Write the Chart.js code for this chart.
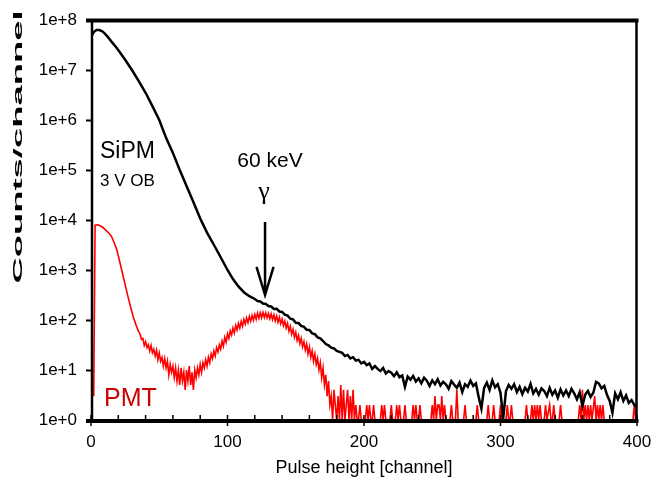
<!DOCTYPE html>
<html><head><meta charset="utf-8">
<script src="https://cdn.jsdelivr.net/npm/chart.js@4.4.1/dist/chart.umd.min.js"></script>
<style>html,body{margin:0;padding:0;background:#fff;}canvas{display:block;}</style>
</head><body>
<canvas id="c" width="653" height="483"></canvas>
<script>
// ---------- DATA ----------
const seriesNames = ['SiPM', 'PMT'];

const sipmChannels = [
  0,2,4,6,8,10,12,15,18,21,25,30,35,40,45,50,55,60,65,70,75,80,85,90,95,100,
  104,108,112,116,120,122,124,126,128,130,132,134,136,138,140,142,144,146,148,150,
  152,154,156,158,160,162,164,166,168,
  170,172,174,176,178,180,182,184,186,188,190,192,194,196,198,
  200,202,204,206,208,210,212,214,216,218,220,222,224,226,228,
  230,232,234,236,238,240,242,244,246,248,250,252,254,256,258,
  260,262,264,266,268,270,272,274,276,278,280,282,284,286,288,
  290,292,294,296,298,300,302,304,306,308,310,312,314,316,318,
  320,322,324,326,328,330,332,334,336,338,340,342,344,346,348,
  350,352,354,356,358,360,362,364,366,368,370,372,374,376,378,
  380,382,384,386,388,390,392,394,396,398,400
];
const sipmCounts = [
  4.6e7,5.75e7,6.3e7,6.3e7,6.0e7,5.4e7,4.7e7,3.7e7,2.95e7,2.3e7,1.6e7,1.0e7,6.0e6,3.5e6,1.9e6,1.0e6,4.4e5,2.2e5,1.0e5,4.8e4,2.3e4,1.07e4,5.6e3,3.2e3,1.8e3,1.0e3,
  660,470,360,300,263,240,235,214,210,190,186,166,168,148,145,128,122,106,103,88,
  87,76,73,64,63,54,52,45,43,
  38,33,31,28,27,24,23,22,19,20,17,18,15.5,16,13.5,
  14.5,12.5,13.5,10.5,12,10.5,9.5,11,8.5,9.5,8.8,7.5,9,7.2,7.8,
  4.6,7.4,6.4,7.6,5.9,6.8,5.4,7,6.1,4.8,6.2,5.2,6.5,4.9,5.8,
  5.2,4.2,6,5.1,4.4,5.6,3.6,5.2,4.6,6.1,4.8,5.4,2.9,1.7,4.4,
  5.6,4,6.2,4.5,5.2,3.5,1.1,3.8,5.0,4.2,5.2,3.6,4.6,3.3,4.4,
  3.7,5.3,3.4,4.2,3.2,4.3,3.8,3.0,4.4,3.2,3.9,2.8,4.1,3.1,3.9,
  3.0,4.2,3.4,2.6,3.6,1.9,3.2,3.8,2.9,3.5,5.8,5.4,4.3,4.8,3.2,
  2.4,1.4,3.4,2.6,3.6,2.4,3.1,2.2,2.5,2.0,1.8
];

const pmtChannels = [
  2,3,5,7,9,11,13,15,17,19,21,23,25,27,29,31,33,35,
  36,37,38,39,40,41,42,43,44,45,
  46,47,48,49,50,51,52,53,54,55,
  56,57,58,59,60,61,62,63,64,65,
  66,67,68,69,70,71,72,73,74,75,
  76,77,78,79,80,81,82,83,84,85,
  86,87,88,89,90,91,92,93,94,95,
  96,97,98,99,100,101,102,103,104,105,
  106,107,108,109,110,111,112,113,114,115,
  116,117,118,119,120,121,122,123,124,125,
  126,127,128,129,130,131,132,133,134,135,
  136,137,138,139,140,141,142,143,144,145,
  146,147,148,149,150,151,152,153,154,155,
  156,157,158,159,160,161,162,163,164,165,
  166,167,168,169,170,171,172,173,174,175,
  176,177,178,179,180,181,182,183,184,185,186,187,188,189,190,191,192,193,194,195,196,197,198,
  201,202,203,204,205,206,207,208,212,213,214,215,216,219,220,221,223,224,225,226,227,229,230,231,
  235,236,237,238,239,240,241,242,249,250,251,252,253,254,255,256,257,258,259,260,
  263,264,265,267,268,269,273,274,275,282,283,284,290,291,292,294,295,296,299,300,301,
  304,305,306,307,308,309,318,319,320,322,323,324,325,326,327,328,329,330,332,333,334,
  336,337,338,339,340,343,344,345,357,358,359,360,361,362,363,364,365,366,367,369,370,
  371,372,373,374,375,376,397,398,399,400
];
const pmtCounts = [
  3,7900,8000,7600,7000,6200,5500,4700,3500,2500,1480,870,510,300,182,115,79,58,
  52,41,43,31,37,28,32,24,31,22,
  26,19,25,16,22,15,18,12,17,11,
  15,8,13,9,12,7,11,6,10,5,
  11,6,9,4,10,6,12,5,9,4,
  10,7,11,8,13,9,14,11,16,12,
  18,14,21,17,24,19,28,23,32,26,
  38,30,45,36,53,43,61,50,69,55,
  78,63,86,69,94,75,103,83,110,88,
  118,94,124,99,130,104,137,108,140,111,
  142,112,140,110,135,106,132,102,127,96,
  120,90,114,84,104,77,96,69,86,60,
  75,52,65,45,57,39,49,34,43,29,
  37,25,33,21,29,18,24,15,21,13,
  17,10,14,7,11,5,8,3,6,2,
  3,1,4,2,1,3,1,5,1,4,1,2,4,1,3,1,4,1,2,1,1,2,1,
  1,2,1,2,1,1,2,1,1,2,1,2,1,1,2,1,1,2,1,2,1,1,2,1,
  1,2,1,2,1,1,2,1,1,2,1,3,1,2,2,1,3,1,2,1,
  1,2,1,1,4,1,1,2,1,1,2,1,1,2,1,1,2,1,1,2,1,
  1,2,1,1,2,1,1,2,1,1,2,1,2,1,2,1,2,1,1,2,1,
  2,1,1,2,1,1,2,1,1,2,1,4,1,2,1,2,1,2,1,3,1,
  2,1,2,1,2,1,1,2,1,1
];

const xTickValues = [0, 100, 200, 300, 400];
const xTickLabels = ['0', '100', '200', '300', '400'];
const yTickValues = [1, 1e1, 1e2, 1e3, 1e4, 1e5, 1e6, 1e7, 1e8];
const yTickLabels = ['1e+0','1e+1','1e+2','1e+3','1e+4','1e+5','1e+6','1e+7','1e+8'];
const xTitle = 'Pulse height [channel]';
const yTitle = 'Counts/channel';
// ------------------------------------------------------------

const FONT = "'Liberation Sans', Arial, sans-serif";
Chart.defaults.font.family = FONT;
Chart.defaults.color = '#000';

const frameAndNotes = {
  id: 'frameAndNotes',
  afterDatasetsDraw(chart) {
    const {ctx, chartArea: a, scales: {x, y}} = chart;
    ctx.save();
    ctx.strokeStyle = '#000';
    ctx.lineCap = 'butt';
    ctx.lineWidth = 2.5;
    ctx.beginPath();
    ctx.moveTo(a.left + 1, a.top); ctx.lineTo(a.left + 1, a.bottom + 1);
    ctx.moveTo(a.right - 0.5, a.top); ctx.lineTo(a.right - 0.5, a.bottom + 1);
    ctx.stroke();
    ctx.lineWidth = 4;
    ctx.beginPath();
    ctx.moveTo(a.left - 5, a.top + 0.5); ctx.lineTo(a.right + 1.5, a.top + 0.5);
    ctx.moveTo(a.left - 5, a.bottom + 1); ctx.lineTo(a.right + 1.5, a.bottom + 1);
    ctx.stroke();
    ctx.lineWidth = 1.5;
    ctx.beginPath();
    x.ticks.forEach(t => {
      const px = x.getPixelForValue(t.value);
      ctx.moveTo(px, a.bottom - 1); ctx.lineTo(px, a.bottom - 5);
      if (xTickValues.includes(t.value)) { ctx.moveTo(px, a.bottom + 2); ctx.lineTo(px, a.bottom + 6); }
    });
    ctx.stroke();

    ctx.save();
    ctx.font = 'bold 13px ' + FONT;
    const w = ctx.measureText(yTitle).width;
    ctx.translate(22, 147);
    ctx.rotate(-Math.PI / 2);
    ctx.scale(273 / w, 1);
    ctx.textAlign = 'center';
    ctx.textBaseline = 'alphabetic';
    ctx.fillStyle = '#000';
    ctx.fillText(yTitle, 0, 0);
    ctx.restore();

    ctx.fillStyle = '#000';
    ctx.textBaseline = 'alphabetic';
    ctx.textAlign = 'left';
    ctx.font = '23px ' + FONT;
    ctx.fillText('SiPM', 100, 158);
    ctx.font = '17px ' + FONT;
    ctx.fillText('3 V OB', 100, 186);
    ctx.textAlign = 'center';
    ctx.font = '21px ' + FONT;
    ctx.fillText('60 keV', 270, 167);
    ctx.font = "26px 'Liberation Serif', 'DejaVu Serif', serif";
    ctx.fillText('\u03B3', 264, 199);
    ctx.textAlign = 'left';
    ctx.fillStyle = '#cc0000';
    ctx.font = '25px ' + FONT;
    ctx.fillText('PMT', 104, 406);

    const ax = x.getPixelForValue(127.5);
    const yTop = y.getPixelForValue(9100);
    const yTip = y.getPixelForValue(316);
    const yWing = y.getPixelForValue(1150);
    ctx.strokeStyle = '#000';
    ctx.lineWidth = 2.5;
    ctx.beginPath();
    ctx.moveTo(ax, yTop); ctx.lineTo(ax, yTip);
    ctx.moveTo(ax - 8.5, yWing); ctx.lineTo(ax, yTip); ctx.lineTo(ax + 8.5, yWing);
    ctx.stroke();
    ctx.restore();
  }
};

new Chart(document.getElementById('c'), {
  type: 'line',
  data: {
    datasets: [
      { label: seriesNames[0], data: sipmChannels.map((c, i) => ({x: c, y: sipmCounts[i]})),
        borderColor: '#000', borderWidth: 2.5, pointRadius: 0, tension: 0, fill: false },
      { label: seriesNames[1], data: pmtChannels.map((c, i) => ({x: c, y: pmtCounts[i]})),
        borderColor: '#ff0000', borderWidth: 1.6, pointRadius: 0, tension: 0, fill: false }
    ]
  },
  options: {
    responsive: false,
    animation: false,
    devicePixelRatio: 1,
    layout: { padding: { top: 20, right: 16, left: 0, bottom: 0 } },
    plugins: { legend: { display: false }, tooltip: { enabled: false } },
    scales: {
      x: {
        type: 'linear', min: 0, max: 400,
        ticks: {
          stepSize: 20, autoSkip: false, maxRotation: 0, padding: 12,
          font: { size: 17 }, color: '#000',
          callback: v => { const k = xTickValues.indexOf(v); return k >= 0 ? xTickLabels[k] : ''; }
        },
        grid: { display: false, drawTicks: false },
        border: { display: false },
        title: { display: true, text: xTitle, font: { size: 18 }, color: '#000', padding: { top: 0, bottom: 4 } },
        afterFit: s => { s.height = 63; s.paddingRight = 0; s.paddingLeft = 0; }
      },
      y: {
        type: 'logarithmic', min: 1, max: 1e8,
        afterBuildTicks: s => { s.ticks = yTickValues.map(v => ({ value: v })); },
        ticks: {
          padding: 9, font: { size: 17 }, color: '#000',
          callback: v => { const k = yTickValues.indexOf(v); return k >= 0 ? yTickLabels[k] : ''; }
        },
        grid: { drawOnChartArea: false, drawTicks: true, tickLength: 5, tickColor: '#000', tickWidth: 2, color: '#000' },
        border: { display: false },
        afterFit: s => { s.width = 91; s.paddingTop = 0; s.paddingBottom = 0; }
      }
    }
  },
  plugins: [frameAndNotes]
});
</script>
</body></html>
